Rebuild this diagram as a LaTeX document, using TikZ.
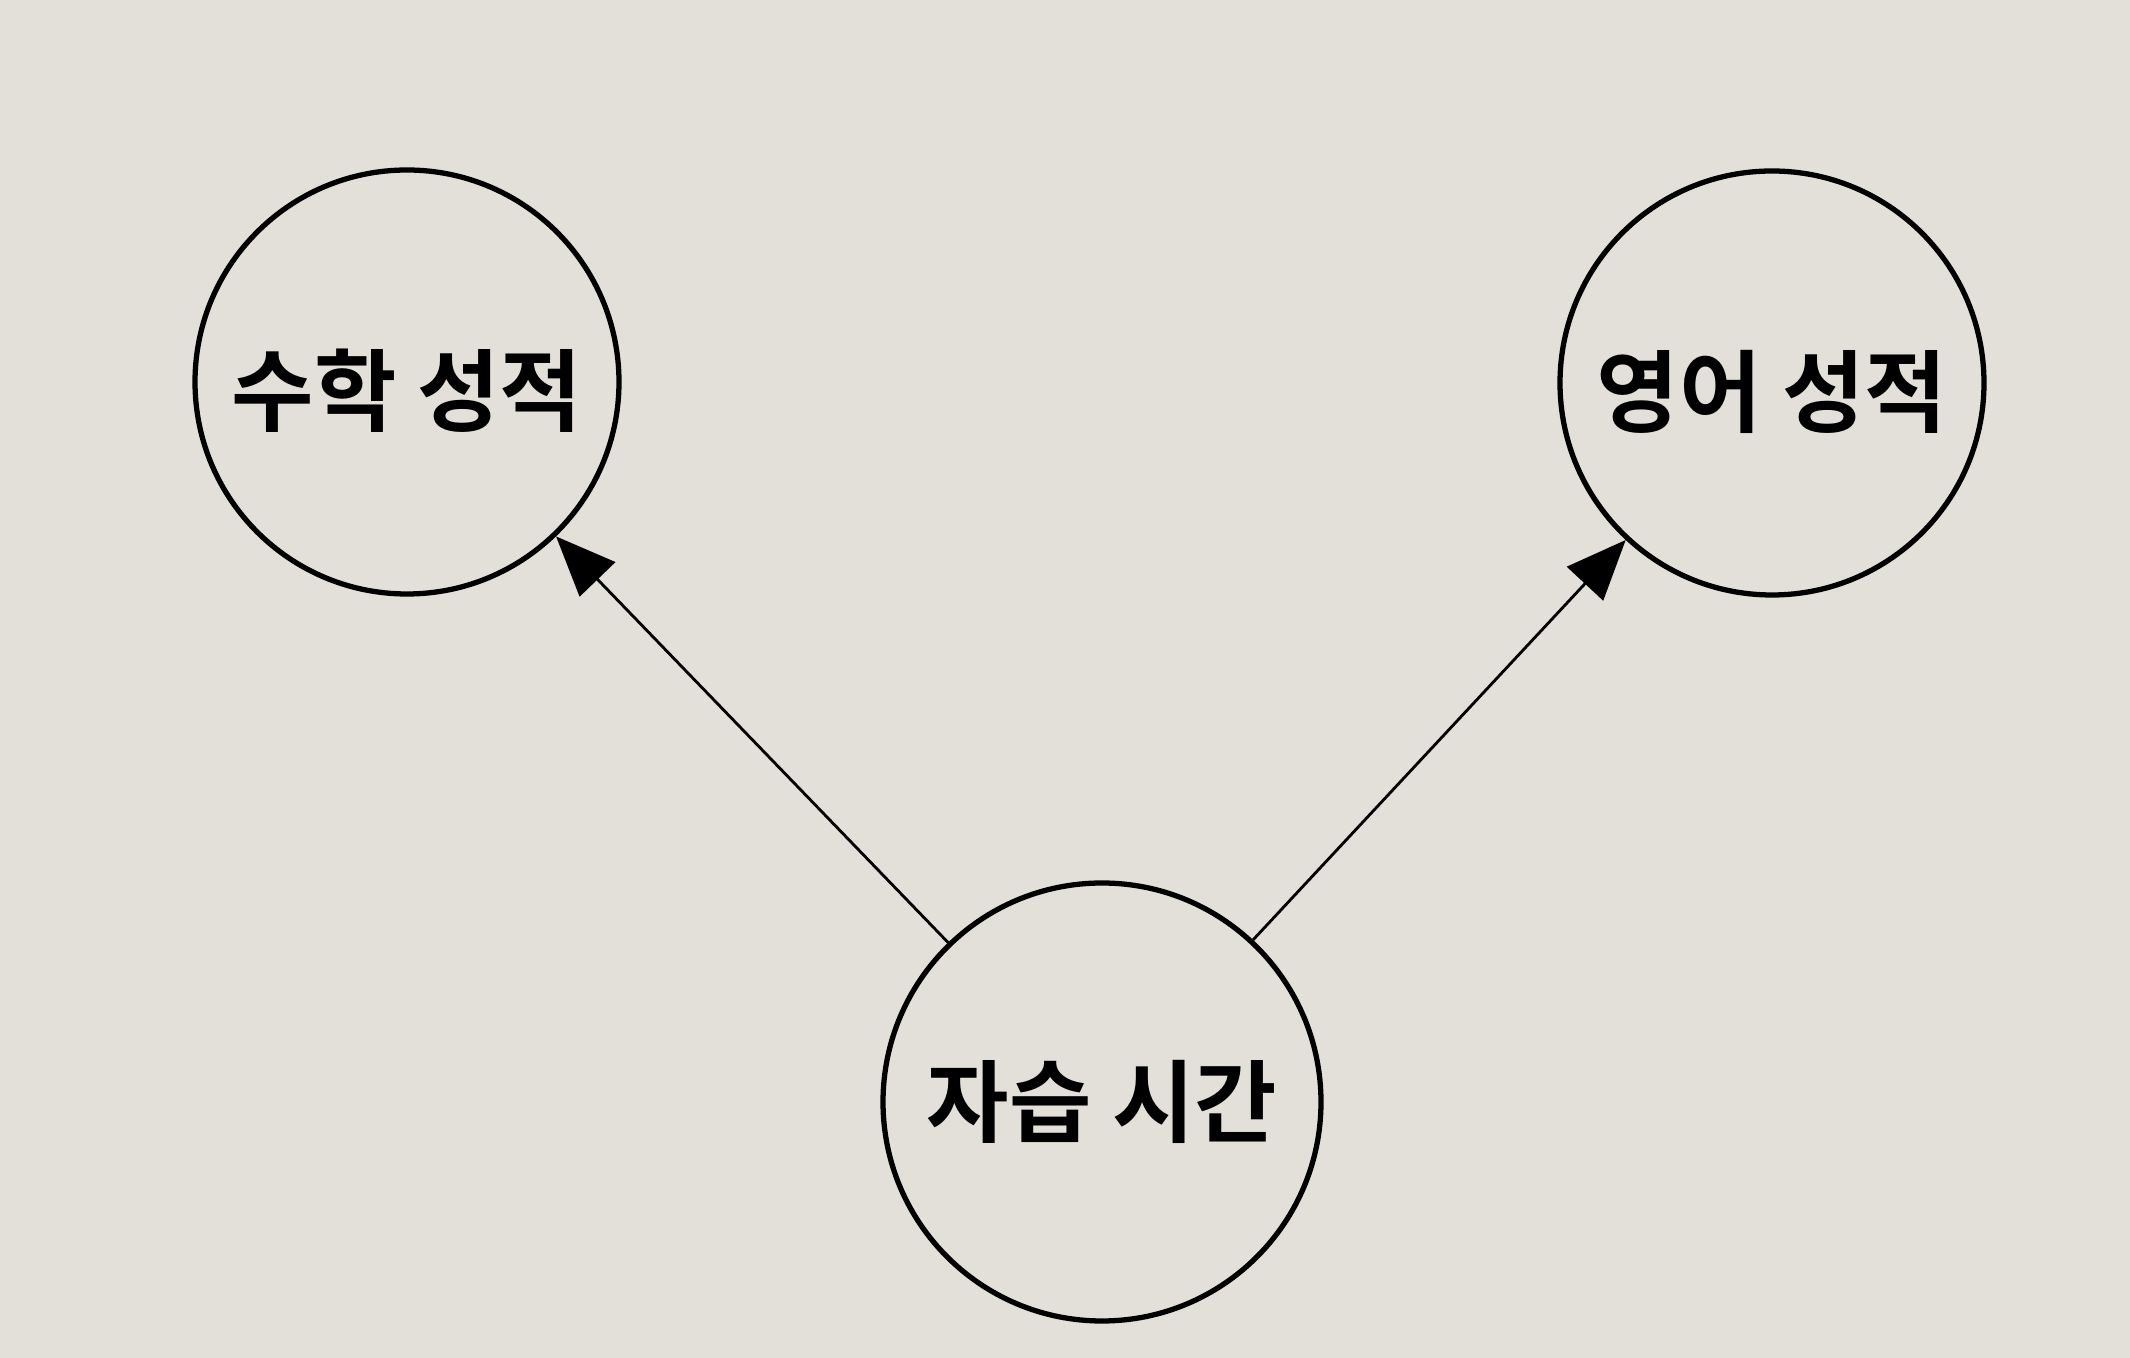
\documentclass[tikz,border=0pt]{standalone}
\usepackage{fontspec}
\setmainfont{Noto Sans CJK KR Bold}
\usepackage{tikz}
\usetikzlibrary{arrows.meta}
\definecolor{paper}{RGB}{226,224,216}
\newcommand{\lowered}[1]{\raisebox{-0.09cm}[\height][\depth]{#1}}

\begin{document}
\begin{tikzpicture}[
    var/.style={circle, draw, line width=1.5pt, minimum size=4.24cm, inner sep=0pt, font=\fontsize{25.5}{30}\selectfont},
    cause/.style={line width=0.8pt, -{Triangle[length=17pt, width=14pt]}}
  ]
        % Page
        \fill[paper] (0,0) rectangle (21.30,-13.58);
        \useasboundingbox (0,0) rectangle (21.30,-13.58);

        % Variables
        \node[var] (math) at (4.07,-3.82) {\lowered{수학 성적}};
        \node[var] (eng) at (17.72,-3.83) {\lowered{영어 성적}};
        \node[var, minimum size=4.38cm] (study) at (11.02,-11.02) {자습 시간};

        % Arrows
        \draw[cause] (study) -- (math);
        \draw[cause] (study) -- (eng);
    \end{tikzpicture}
\end{document}
